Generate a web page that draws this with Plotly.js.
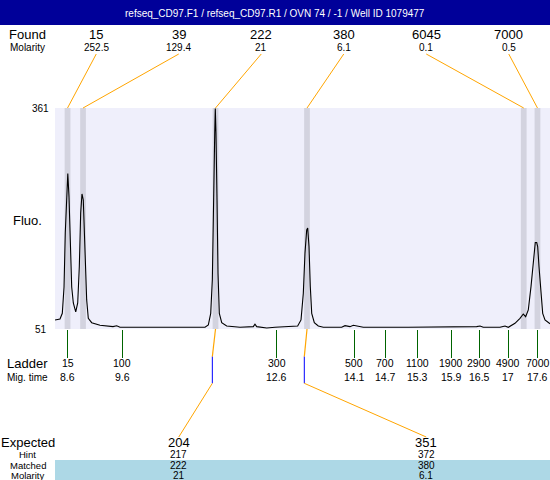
<!DOCTYPE html>
<html><head><meta charset="utf-8">
<script src="https://cdn.plot.ly/plotly-3.0.1.min.js"></script>
<style>html,body{margin:0;padding:0;background:#fff}#chart{width:550px;height:480px}</style>
</head><body><div id="chart"></div>
<script>
const titleText = "refseq_CD97.F1 / refseq_CD97.R1 / OVN 74 / -1 / Well ID 1079477";

// electropherogram trace: migration time (min) vs fluorescence
const traceTime = [8.370, 8.466, 8.510, 8.543, 8.567, 8.594, 8.615, 8.638, 8.657, 8.690,
  8.721, 8.767, 8.805, 8.836, 8.862, 8.887, 8.912, 8.945, 8.977, 9.008,
  9.073, 9.232, 9.481, 9.552, 9.615, 10.382, 11.244, 11.307, 11.353, 11.384,
  11.403, 11.430, 11.441, 11.454, 11.474, 11.493, 11.518, 11.564, 11.659, 11.914,
  12.169, 12.201, 12.234, 12.426, 12.585, 12.839, 13.019, 13.083, 13.127, 13.159,
  13.192, 13.211, 13.236, 13.261, 13.288, 13.338, 13.414, 13.510, 13.862, 13.926,
  14.021, 14.085, 14.180, 14.276, 15.138, 15.905, 16.449, 16.512, 16.575, 16.895,
  16.991, 17.054, 17.182, 17.278, 17.341, 17.387, 17.437, 17.489, 17.521, 17.552,
  17.571, 17.598, 17.617, 17.642, 17.675, 17.713, 17.757, 17.809, 17.853];
const traceFluo = [63.7, 65, 73, 110, 186, 237, 269, 237, 186, 110,
  87.5, 75, 87.5, 138.6, 213.7, 240.4, 232, 162, 91.8, 66,
  59.9, 56.2, 54.3, 55.6, 53.4, 53.4, 53.4, 56.6, 73, 120,
  232, 326, 360.3, 326, 232, 129, 73, 59.9, 55.2, 53.4,
  54.3, 57.6, 54.3, 52.4, 53.4, 54.3, 55.2, 63.7, 101, 157.4,
  190, 192.6, 166.7, 110.5, 73, 60, 55.2, 53.4, 53.4, 55.7,
  54.3, 56.2, 55.2, 53.4, 53.4, 53.4, 54.3, 55.2, 53.4, 53.4,
  55.2, 53.4, 59, 66, 72, 68.3, 77.7, 110.5, 138.6, 166.7,
  172.3, 172.3, 166.7, 138.6, 101, 73, 63.7, 61, 58.4];

// found peaks
const foundSize = ["15", "39", "222", "380", "6045", "7000"];
const foundMolarity = ["252.5", "129.4", "21", "6.1", "0.1", "0.5"];
const foundTime = [8.61, 8.907, 11.445, 13.198, 17.35, 17.613];

// ladder
const ladderSize = ["15", "100", "300", "500", "700", "1100", "1900", "2900", "4900", "7000"];
const ladderTime = [8.613, 9.659, 12.617, 14.104, 14.698, 15.318, 15.962, 16.498, 17.054, 17.617];
const ladderTimeLabel = ["8.6", "9.6", "12.6", "14.1", "14.7", "15.3", "15.9", "16.5", "17", "17.6"];

// expected fragments
const expectedSize = ["204", "351"];
const hintSize = ["217", "372"];
const matchedSize = ["222", "380"];
const matchedMolarity = ["21", "6.1"];
const matchedFoundIndex = [2, 3];
const hintTime = [11.384, 13.146];

const yTickVals = [51, 361];

// ---- layout constants ----
const W = 550, H = 480, ML = 55, MT = 108, MB = 151;
const PH = H - MT - MB, PW = W - ML;
const xRange = [8.370, 17.853];
const px = X => (X - ML) / PW;          // pixel x -> paper
const py = Y => (MT + PH - Y) / PH;     // pixel y -> paper
const paperToX = f => xRange[0] + f * (xRange[1] - xRange[0]);
const FONT = "Liberation Sans, Arial, sans-serif";
const ORANGE = "#FFA500", BLUE = "#0000FF", GREEN = "#006400";

const shapes = [];
const annotations = [];
function ann(x, y, text, size, xref, yref, extra) {
  annotations.push(Object.assign({x, y, text, xref, yref, showarrow: false,
    xanchor: "center", yanchor: "middle", borderpad: 0,
    font: {family: FONT, size, color: "#000"}}, extra || {}));
}

// title bar
shapes.push({type: "rect", xref: "paper", yref: "paper", x0: px(0), x1: 1.01,
  y0: py(25), y1: py(-2), fillcolor: "#000099", line: {width: 0}, layer: "below"});
ann(px(275), py(13), titleText, 10, "paper", "paper", {font: {family: FONT, size: 10, color: "#fff"}});

// matched band
shapes.push({type: "rect", xref: "paper", yref: "paper", x0: 0, x1: 1.01,
  y0: py(481), y1: py(460), fillcolor: "#ADD8E6", line: {width: 0}, layer: "below"});

// left labels
const LX = px(27.5);
ann(LX, py(34), "Found", 13, "paper", "paper");
ann(LX, py(47), "Molarity", 10, "paper", "paper");
ann(LX, py(220), "Fluo.", 13, "paper", "paper");
ann(LX, py(363), "Ladder", 13, "paper", "paper");
ann(LX, py(377), "Mig. time", 10, "paper", "paper");
ann(LX, py(442), "Expected", 13, "paper", "paper");
ann(LX, py(454), "Hint", 9.5, "paper", "paper");
ann(LX, py(465.5), "Matched", 9.5, "paper", "paper");
ann(LX, py(475), "Molarity", 9.5, "paper", "paper");

// y tick labels
yTickVals.forEach(v => ann(px(40.5), v, String(v), 10, "paper", "y"));

// found peaks: bands, labels, connectors
const nF = foundSize.length;
foundTime.forEach((t, i) => {
  shapes.push({type: "rect", xref: "x", yref: "paper", x0: t - 0.055, x1: t + 0.055,
    y0: 0, y1: 1, fillcolor: "#D3D3DF", line: {width: 0}, layer: "below"});
  const f = (i + 0.5) / nF;
  ann(f, py(34), foundSize[i], 13, "paper", "paper");
  ann(f, py(47), foundMolarity[i], 10, "paper", "paper");
  shapes.push({type: "line", xref: "x", yref: "paper", x0: paperToX(f), y0: py(54),
    x1: t, y1: 1, line: {color: ORANGE, width: 1}});
});

// ladder labels
ladderTime.forEach((t, i) => {
  ann(t, py(363), ladderSize[i], 10.5, "x", "paper");
  ann(t, py(377), ladderTimeLabel[i], 10.5, "x", "paper");
});

// expected rows and connectors
const nE = expectedSize.length;
expectedSize.forEach((s, i) => {
  const f = (i + 0.5) / nE;
  ann(f, py(442), s, 13, "paper", "paper");
  ann(f, py(454), hintSize[i], 10, "paper", "paper");
  ann(f, py(465.5), matchedSize[i], 10, "paper", "paper");
  ann(f, py(475), matchedMolarity[i], 10, "paper", "paper");
  const ft = foundTime[matchedFoundIndex[i]], ht = hintTime[i];
  shapes.push({type: "line", xref: "x", yref: "paper", x0: ft, y0: 0, x1: ht, y1: py(356.7),
    line: {color: ORANGE, width: 1.2}});
  shapes.push({type: "line", xref: "x", yref: "paper", x0: ht, y0: py(356.7), x1: ht, y1: py(383.3),
    line: {color: BLUE, width: 1}});
  shapes.push({type: "line", xref: "x", yref: "paper", x0: ht, y0: py(383.3), x1: paperToX(f), y1: py(437),
    line: {color: ORANGE, width: 1}});
});

const data = [{
  x: traceTime, y: traceFluo, type: "scatter", mode: "lines",
  line: {color: "#000", width: 1.1}, hoverinfo: "skip"
}];

const layout = {
  width: W, height: H,
  margin: {l: ML, r: 0, t: MT, b: MB, pad: 0},
  paper_bgcolor: "#fff", plot_bgcolor: "#EFEFFB",
  showlegend: false,
  font: {family: FONT},
  xaxis: {range: xRange, showgrid: false, zeroline: false, showline: false,
    showticklabels: false, ticks: "outside", tickvals: ladderTime, ticklen: 28,
    tickcolor: GREEN, tickwidth: 1, fixedrange: true},
  yaxis: {range: [51, 361], showgrid: false, zeroline: false, showline: false,
    showticklabels: false, ticks: "", fixedrange: true},
  shapes, annotations
};

Plotly.newPlot("chart", data, layout, {displayModeBar: false, staticPlot: true});
</script>
</body></html>
